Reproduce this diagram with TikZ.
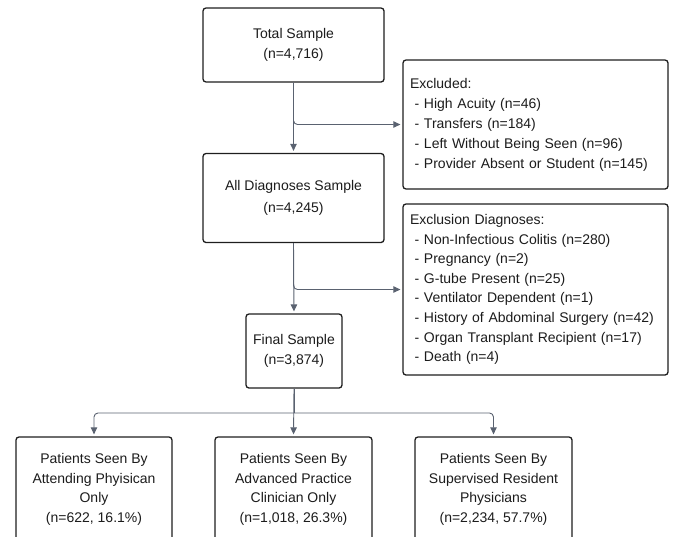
\documentclass[tikz,border=0pt]{standalone}
\usepackage{fontspec}
\setmainfont{Liberation Sans}
\usetikzlibrary{arrows.meta}
\definecolor{boxline}{HTML}{1E1E1E}
\definecolor{conn}{HTML}{5A6270}
\definecolor{txt}{HTML}{1C1C1C}
\begin{document}
\begin{tikzpicture}[x=1pt,y=-1pt,
  box/.style={draw=boxline, line width=1.3pt, rounded corners=3pt, fill=white,
    text=txt, align=center, font=\fontsize{14}{20}\selectfont, inner sep=0pt},
  listbox/.style={box, align=left, text width=251pt, inner xsep=7pt,
    minimum width=265pt},
  arrow/.style={draw=conn, line width=0.9pt, rounded corners=4pt,
    -{Triangle[length=7pt,width=6.5pt]}, shorten >=2pt},
  line/.style={draw=conn, line width=0.9pt, rounded corners=4pt}]
\useasboundingbox (0,0) rectangle (674,536);
\clip (0,0) rectangle (674,536);

\node[box, minimum width=181pt, minimum height=74pt] (total) at (293.5,45)
  {Total Sample\\(n=4,716)};
\node[box, minimum width=181pt, minimum height=89pt, font=\fontsize{14}{22}\selectfont] (all) at (293.5,198)
  {All Diagnoses Sample\\(n=4,245)};
\node[box, minimum width=96pt, minimum height=74pt] (final) at (294,351)
  {Final Sample\\(n=3,874)};

\node[listbox, minimum height=129pt] (excl) at (535.5,124.5)
  {Excluded:\\
   \ - High Acuity (n=46)\\
   \ - Transfers (n=184)\\
   \ - Left Without Being Seen (n=96)\\
   \ - Provider Absent or Student (n=145)};
\node[listbox, minimum height=171pt, font=\fontsize{14}{19.6}\selectfont] (exdiag) at (535.5,289.5)
  {Exclusion Diagnoses:\\
   \ - Non-Infectious Colitis (n=280)\\
   \ - Pregnancy (n=2)\\
   \ - G-tube Present (n=25)\\
   \ - Ventilator Dependent (n=1)\\
   \ - History of Abdominal Surgery (n=42)\\
   \ - Organ Transplant Recipient (n=17)\\
   \ - Death (n=4)};

\node[box, minimum width=156pt, minimum height=105pt, font=\fontsize{14}{19.7}\selectfont] (att) at (94,489.5)
  {Patients Seen By\\Attending Phyisican\\Only\\(n=622, 16.1\%)};
\node[box, minimum width=157pt, minimum height=105pt, font=\fontsize{14}{19.7}\selectfont] (apc) at (293.5,489.5)
  {Patients Seen By\\Advanced Practice\\Clinician Only\\(n=1,018, 26.3\%)};
\node[box, minimum width=157pt, minimum height=105pt, font=\fontsize{14}{19.7}\selectfont] (res) at (493.5,489.5)
  {Patients Seen By\\Supervised Resident\\Physicians\\(n=2,234, 57.7\%)};

\draw[arrow] (total.south) -- (all.north);
\draw[arrow] (total.south) |- (excl.west);
\draw[arrow] (all.south) -- (final.north);
\draw[arrow] (all.south) |- (exdiag.west);

\coordinate (split) at (294,413);
\draw[line] (final.south) -- (split);
\draw[arrow] (split) -| (att.north);
\draw[arrow] (final.south) -- (apc.north);
\draw[arrow] (split) -| (res.north);
\end{tikzpicture}
\end{document}
